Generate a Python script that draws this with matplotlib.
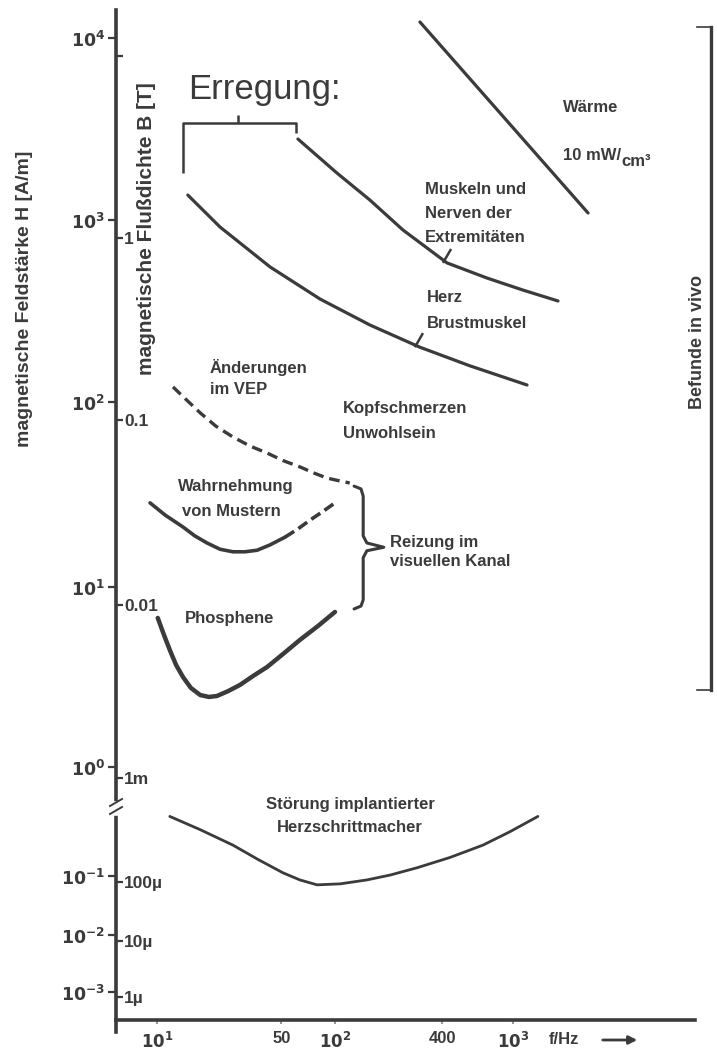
import numpy as np
import matplotlib
matplotlib.use('Agg')
import matplotlib.pyplot as plt
from matplotlib.lines import Line2D
from matplotlib.ticker import NullLocator

W, H = 717, 1050
INK = '#3b3b3b'
MU = 4e-4 * np.pi   # B [T] je Einheit H

# Achsenbeschriftung
h_ticks = [1e4, 1e3, 1e2, 1e1, 1e0, 1e-1, 1e-2, 1e-3]
h_labels = [r'$\mathbf{10^{4}}$', r'$\mathbf{10^{3}}$', r'$\mathbf{10^{2}}$', r'$\mathbf{10^{1}}$',
            r'$\mathbf{10^{0}}$', r'$\mathbf{10^{-1}}$', r'$\mathbf{10^{-2}}$', r'$\mathbf{10^{-3}}$']
b_ticks = [10, 1, 0.1, 0.01, 1e-3, 1e-4, 1e-5, 1e-6]
b_labels = ['', '1', '0.1', '0.01', '1m', '100µ', '10µ', '1µ']
f_ticks = [10, 50, 100, 400, 1000]
f_labels = [r'$\mathbf{10^{1}}$', '50', r'$\mathbf{10^{2}}$', '400', r'$\mathbf{10^{3}}$']

# Kurven (f in Hz, H in A/m)
waerme_f = [300, 2640]
waerme_h = [12250, 1093]
muskel_f = [61.9, 102.6, 157, 241, 426, 714, 1138, 1790]
muskel_h = [2786, 1811, 1288, 881, 581, 480, 412, 359]
herz_f = [14.9, 22.6, 43.2, 82.4, 157, 300, 573, 1199]
herz_h = [1371, 915, 552, 368, 265, 200, 158, 124]
vep_f = [12.3, 14.6, 17.5, 21.4, 26.7, 33.3, 41.5, 51.7, 63.5, 76.2, 90.2, 107, 121]
vep_h = [121, 103, 87.3, 74.1, 64.7, 57.8, 53.0, 48.0, 44.6, 41.3, 38.8, 37.4, 36.5]
muster_f = [9.14, 11.1, 14.0, 16.3, 19.1, 22.6, 26.7, 31.2, 36.5, 43.2, 52.4]
muster_h = [28.5, 24.5, 21.1, 18.9, 17.3, 16.0, 15.5, 15.5, 15.8, 16.9, 18.6]
muster2_f = [52.4, 61.9, 72.4, 84.5, 100]
muster2_h = [18.6, 20.6, 23.0, 25.4, 28.5]
phos_f = [10.1, 10.95, 11.8, 12.8, 14.0, 15.5, 17.5, 19.6, 21.7, 25.1, 29.3, 34.6, 41.5, 51.0, 63.5, 80.2, 100]
phos_h = [6.73, 5.41, 4.47, 3.69, 3.16, 2.75, 2.51, 2.45, 2.48, 2.64, 2.86, 3.20, 3.59, 4.24, 5.08, 6.07, 7.27]
pace_f = [11.8, 17.5, 26.7, 36.9, 51.0, 63.5, 79.3, 107, 151, 204, 289, 443, 678, 962, 1380]
pace_h = [0.352, 0.266, 0.192, 0.142, 0.107, 0.0858, 0.0708, 0.0736, 0.0858, 0.102, 0.119, 0.148, 0.192, 0.255, 0.352]

# Klammern und Hinweisstriche
erreg_f = [14.0, 14.0, 60.4, 60.4]
erreg_h = [1811, 3412, 3412, 3006]
erreg_tick_f = [28.5, 28.5]
erreg_tick_h = [3412, 3776]
muskel_tick_f = [404, 449]
muskel_tick_h = [581, 693]
herz_tick_f = [281, 312]
herz_tick_h = [200, 239]
brace_f = [128, 140, 144, 144, 151, 188, 151, 144, 144, 140, 128]
brace_h = [35.1, 33.9, 31.0, 18.9, 17.3, 16.4, 15.7, 14.4, 8.47, 7.84, 7.55]

plt.rcParams['font.family'] = ['Liberation Sans', 'DejaVu Sans']
plt.rcParams['font.weight'] = 'bold'

# y-Achse mit Bruch: stückweise logarithmisch
DEC = np.array([-3.53, -3.0, -2.0, -1.0, 0.0, 1.0, 2.0, 3.0, 4.0, 4.154])
PIX = np.array([1020, 992, 935, 876, 767, 587, 402, 220, 38, 10], dtype=float)


def fwd(h):
    lg = np.log10(np.clip(np.asarray(h, dtype=float), 1e-30, None))
    return -np.interp(lg, DEC, PIX)


def inv(u):
    return 10 ** np.interp(-np.asarray(u, dtype=float), PIX[::-1], DEC[::-1])


def px(x, y):
    return x / W, 1 - y / H


fig = plt.figure(figsize=(W / 100, H / 100), dpi=100)
rect = [116 / W, 1 - 1020 / H, (695 - 116) / W, (1020 - 10) / H]
ax = fig.add_axes(rect)
ax.set_xscale('log')
ax.set_xlim(10 ** 0.7697, 10 ** 4.0225)
ax.set_yscale('function', functions=(fwd, inv))
ax.set_ylim(10 ** -3.53, 10 ** 4.154)

for s in ['top', 'right']:
    ax.spines[s].set_visible(False)
for s in ['left', 'bottom']:
    ax.spines[s].set_linewidth(2.6)
    ax.spines[s].set_color(INK)

ax.set_yticks(h_ticks, labels=h_labels)
ax.yaxis.set_minor_locator(NullLocator())
ax.set_xticks(f_ticks, labels=f_labels)
ax.xaxis.set_minor_locator(NullLocator())
ax.tick_params(axis='y', direction='out', length=6, width=1.6, color=INK,
               pad=2, labelsize=12.5, labelcolor=INK)
ax.tick_params(axis='x', direction='out', length=3, width=1.5, color='#999999',
               pad=5, labelsize=12, labelcolor=INK)

# zweite Skala B [T] rechts an der linken Achse
ax2 = fig.add_axes(rect)
ax2.set_yscale('function', functions=(fwd, inv))
ax2.set_ylim(10 ** -3.53, 10 ** 4.154)
ax2.patch.set_visible(False)
ax2.xaxis.set_visible(False)
for s in ax2.spines.values():
    s.set_visible(False)
ax2.yaxis.set_ticks_position('right')
ax2.spines['right'].set_position(('axes', 0.0))
ax2.set_yticks([b / MU for b in b_ticks], labels=b_labels)
ax2.yaxis.set_minor_locator(NullLocator())
ax2.tick_params(axis='y', direction='out', length=5, width=1.6, color=INK,
                pad=1, labelsize=12.5, labelcolor=INK)

# Kurven
lw = 2.3
ax.plot(waerme_f, waerme_h, color=INK, lw=lw, solid_capstyle='round')
ax.plot(muskel_f, muskel_h, color=INK, lw=lw, solid_capstyle='round')
ax.plot(herz_f, herz_h, color=INK, lw=lw, solid_capstyle='round')
ax.plot(vep_f, vep_h, color=INK, lw=2.4, dashes=(3.2, 1.8))
ax.plot(muster_f, muster_h, color=INK, lw=2.6, solid_capstyle='round')
ax.plot(muster2_f, muster2_h, color=INK, lw=2.6, dashes=(3.0, 1.4))
ax.plot(phos_f, phos_h, color=INK, lw=3.2, solid_capstyle='round', solid_joinstyle='round')
ax.plot(pace_f, pace_h, color=INK, lw=2.0, solid_capstyle='round')

for xs, ys in [(erreg_f, erreg_h), (erreg_tick_f, erreg_tick_h),
               (muskel_tick_f, muskel_tick_h), (herz_tick_f, herz_tick_h)]:
    ax.plot(xs, ys, color=INK, lw=1.8, solid_capstyle='butt')
ax.plot(brace_f, brace_h, color=INK, lw=2.2, solid_joinstyle='round', solid_capstyle='round')


def put(s, x, y, **kw):
    opts = dict(color=INK, fontsize=12, fontweight='bold', va='center', ha='left')
    opts.update(kw)
    fig.text(*px(x, y), s, **opts)


put('Erregung:', 264, 89, fontsize=25, fontweight='normal', ha='center')
put('Wärme', 563, 107)
put('10 mW/', 563, 155)
put('cm³', 621, 161)
put('Muskeln und', 425, 190)
put('Nerven der', 425, 213)
put('Extremitäten', 425, 237)
put('Herz', 427, 298)
put('Brustmuskel', 427, 323)
put('Änderungen', 210, 367)
put('im VEP', 210, 390)
put('Kopfschmerzen', 343, 408)
put('Unwohlsein', 343, 433)
put('Wahrnehmung', 178, 487)
put('von Mustern', 182, 512)
put('Reizung im', 390, 542)
put('visuellen Kanal', 390, 562)
put('Phosphene', 185, 618)
put('Störung implantierter', 350, 805, ha='center')
put('Herzschrittmacher', 350, 828, ha='center')
put('Befunde in vivo', 698, 342, rotation=90, ha='center', fontsize=13)
put('magnetische Feldstärke H [A/m]', 25, 299, rotation=90, ha='center', fontsize=14)
put('magnetische Flußdichte B [T]', 147, 229, rotation=90, ha='center', fontsize=15)
put('f/Hz', 549, 1040)
ax.annotate('', xy=px(640, 1040), xytext=px(600, 1040), xycoords='figure fraction',
            arrowprops=dict(arrowstyle='-|>', lw=2, color=INK, mutation_scale=12))

# Klammer "Befunde in vivo"
for xs, ys, w in [([711, 711], [27, 690], 2.4), ([697, 711], [27, 27], 1.2),
                  ([697, 711], [690, 690], 1.2)]:
    fig.add_artist(Line2D([x / W for x in xs], [1 - y / H for y in ys], color=INK, lw=w))

# Achsenbruch und Verlängerung der y-Achse nach unten
fig.add_artist(Line2D([116 / W] * 2, [1 - 1020 / H, 1 - 1032 / H], color=INK, lw=2.6))
fig.add_artist(Line2D([116 / W] * 2, [1 - 804 / H, 1 - 813 / H], color='white', lw=4))
for y0 in (806, 814):
    fig.add_artist(Line2D([110 / W, 122 / W], [1 - y0 / H, 1 - (y0 - 7) / H], color=INK, lw=1.4))

fig.savefig('out.png', dpi=100, facecolor='white')
